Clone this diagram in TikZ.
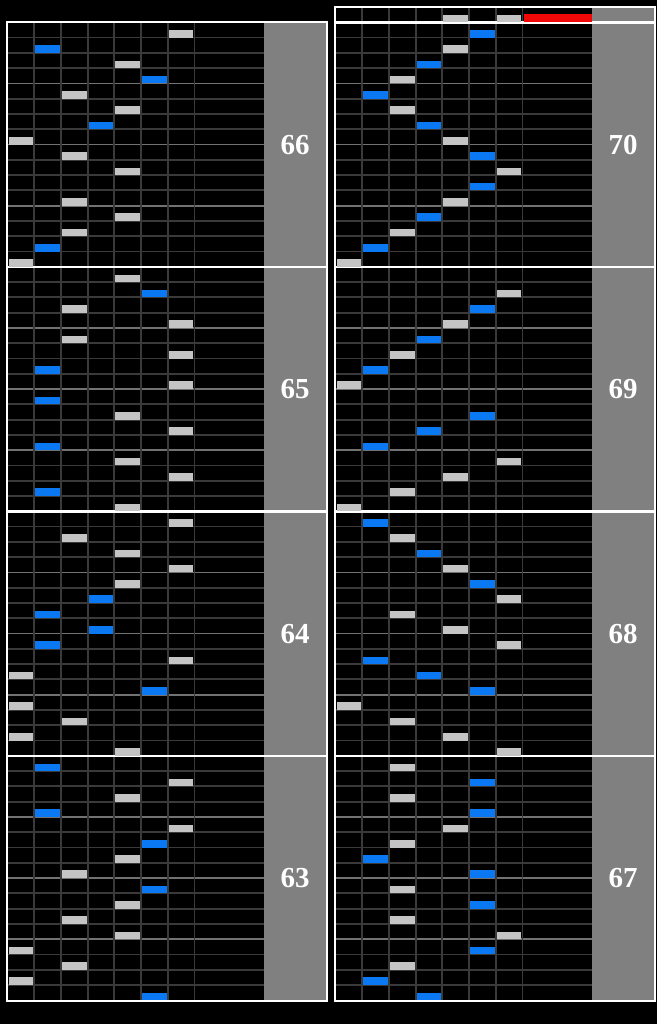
\documentclass[tikz,border=0pt]{standalone}
\usepackage{fontspec}
\setmainfont{Liberation Serif}
\definecolor{thinline}{HTML}{3A3A3A}
\definecolor{beatline}{HTML}{727272}
\definecolor{panelgray}{HTML}{808080}
\definecolor{bluenote}{HTML}{0A78F2}
\definecolor{graynote}{HTML}{C4C4C4}
\definecolor{rednote}{HTML}{F00808}
\tikzset{
  gridthin/.style={draw=thinline,line width=1.8pt},
  gridbeat/.style={draw=beatline,line width=1.8pt},
  border/.style={draw=white,line width=2pt},
  separator/.style={draw=white,line width=2.6pt},
  numlabel/.style={text=white,font=\bfseries\fontsize{29}{29}\selectfont,inner sep=0pt},
  bluekey/.style={fill=bluenote},
  whitekey/.style={fill=graynote},
  scratchkey/.style={fill=rednote}
}
% #1 x offset, #2 top y, #3 measure number
\newcommand\chartmeasure[3]{%
  \fill[panelgray] (#1+264,#2) rectangle (#1+326,#2+244.5);
  \foreach \k in {1,...,15}{\draw[gridthin] (#1+7.5,#2+\k*15.28) -- (#1+264,#2+\k*15.28);}
  \foreach \k in {4,8,12}{\draw[gridbeat] (#1+7.5,#2+\k*15.28) -- (#1+264,#2+\k*15.28);}
  \foreach \i in {1,...,7}{\draw[gridthin] (#1+7.5+\i*26.7,#2) -- (#1+7.5+\i*26.7,#2+244.5);}
  \node[numlabel] (m#3) at (#1+295,#2+122.25) {#3};
}
% #1 x offset, #2 bottom y of measure, #3 list lane/tick
\newcommand\chartnotes[3]{%
  \foreach \l/\t in {#3}{%
    \pgfmathsetmacro\xa{#1+7.5+(\l-1)*26.7+1}%
    \pgfmathsetmacro\xb{#1+7.5+\l*26.7-1}%
    \pgfmathsetmacro\yb{#2-\t*15.28}%
    \pgfmathtruncatemacro\oddlane{mod(\l,2)}%
    \ifnum\oddlane=1
      \fill[whitekey] (\xa,\yb-7.6) rectangle (\xb,\yb);
    \else
      \fill[bluekey] (\xa,\yb-7.6) rectangle (\xb,\yb);
    \fi
  }%
}
\begin{document}
\begin{tikzpicture}[x=1pt,y=-1pt]
\fill[black] (0,0) rectangle (657,1024);
\useasboundingbox (0,0) rectangle (657,1024);
% left column measures 66..63
\chartmeasure{0}{22.3}{66}
\chartmeasure{0}{266.8}{65}
\chartmeasure{0}{511.3}{64}
\chartmeasure{0}{755.8}{63}
% right column measures 70..67
\chartmeasure{328}{22.3}{70}
\chartmeasure{328}{266.8}{69}
\chartmeasure{328}{511.3}{68}
\chartmeasure{328}{755.8}{67}
% partial strip of measure 71
\fill[panelgray] (328+264,7.3) rectangle (328+326,22.3);
\foreach \i in {1,...,7}{\draw[gridthin] (328+7.5+\i*26.7,7.3) -- (328+7.5+\i*26.7,22.3);}
% borders and separators
\draw[border] (6.5,22.3) rectangle (326.5,1000.5);
\draw[border] (334.5,7.3) rectangle (654.5,1000.5);
\foreach \y in {266.8,511.3,755.8}{
  \draw[separator] (6.5,\y) -- (326.5,\y);
  \draw[separator] (334.5,\y) -- (654.5,\y);
}
\draw[separator] (334.5,22.3) -- (654.5,22.3);
% notes, left column
\chartnotes{0}{266.8}{7/15,2/14,5/13,6/12,3/11,5/10,4/9,1/8,3/7,5/6,3/4,5/3,3/2,2/1,1/0}
\chartnotes{0}{511.3}{5/15,6/14,3/13,7/12,3/11,7/10,2/9,7/8,2/7,5/6,7/5,2/4,5/3,7/2,2/1,5/0}
\chartnotes{0}{755.8}{7/15,3/14,5/13,7/12,5/11,4/10,2/9,4/8,2/7,7/6,1/5,6/4,1/3,3/2,1/1,5/0}
\chartnotes{0}{1000.3}{2/15,7/14,5/13,2/12,7/11,6/10,5/9,3/8,6/7,5/6,3/5,5/4,1/3,3/2,1/1,6/0}
% notes, right column
\chartnotes{328}{22.3}{5/0,7/0}
\fill[scratchkey] (328+195.5,22.3-8.2) rectangle (328+263.5,22.3);
\chartnotes{328}{266.8}{6/15,5/14,4/13,3/12,2/11,3/10,4/9,5/8,6/7,7/6,6/5,5/4,4/3,3/2,2/1,1/0}
\chartnotes{328}{511.3}{7/14,6/13,5/12,4/11,3/10,2/9,1/8,6/6,4/5,2/4,7/3,5/2,3/1,1/0}
\chartnotes{328}{755.8}{2/15,3/14,4/13,5/12,6/11,7/10,3/9,5/8,7/7,2/6,4/5,6/4,1/3,3/2,5/1,7/0}
\chartnotes{328}{1000.3}{3/15,6/14,3/13,6/12,5/11,3/10,2/9,6/8,3/7,6/6,3/5,7/4,6/3,3/2,2/1,4/0}
\end{tikzpicture}
\end{document}
